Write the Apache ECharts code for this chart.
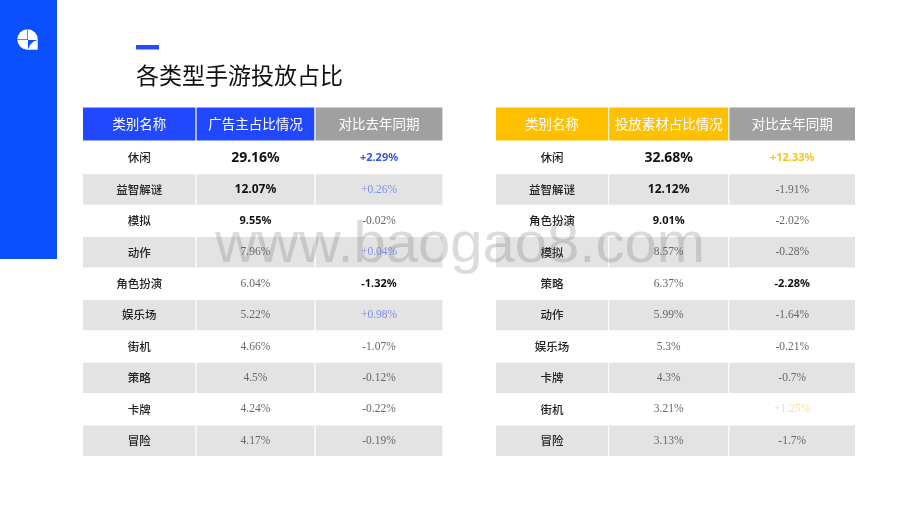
<!doctype html>
<html>
<head>
<meta charset="UTF-8">
<title>各类型手游投放占比</title>
<style>
html, body { margin: 0; padding: 0; background: #fff; }
#main { width: 920px; height: 518px; }
</style>
</head>
<body>
<div id="main"></div>
<script src="https://cdn.jsdelivr.net/npm/echarts@6/dist/echarts.min.js"></script>
<script>
// 数据
var adHeaders = ['类别名称', '广告主占比情况', '对比去年同期'];
var adCategories = ['休闲', '益智解谜', '模拟', '动作', '角色扮演', '娱乐场', '街机', '策略', '卡牌', '冒险'];
var adShares = [29.16, 12.07, 9.55, 7.96, 6.04, 5.22, 4.66, 4.5, 4.24, 4.17];
var adChanges = [2.29, 0.26, -0.02, 0.04, -1.32, 0.98, -1.07, -0.12, -0.22, -0.19];

var mediaHeaders = ['类别名称', '投放素材占比情况', '对比去年同期'];
var mediaCategories = ['休闲', '益智解谜', '角色扮演', '模拟', '策略', '动作', '娱乐场', '卡牌', '街机', '冒险'];
var mediaShares = [32.68, 12.12, 9.01, 8.57, 6.37, 5.99, 5.3, 4.3, 3.21, 3.13];
var mediaChanges = [12.33, -1.91, -2.02, -0.28, -2.28, -1.64, -0.21, -0.7, 1.25, -1.7];

var CJK = '"Noto Sans CJK SC", "Noto Sans", sans-serif';
var BOLD_NUM = '"Noto Sans", "Open Sans", sans-serif';
var SERIF_NUM = '"Liberation Serif", serif';
var shareSizes = [14, 12, 11];

// 前三名加粗，涨跌幅最大的加粗
function shareStyle(i) {
	if (i < 3) return { fontFamily: BOLD_NUM, fontWeight: 700, fontSize: shareSizes[i], fill: '#111' };
	return { fontFamily: SERIF_NUM, fontWeight: 400, fontSize: 11.5, fill: '#666' };
}
function changeStyle(v, list, strong, light) {
	var max = Math.max.apply(null, list), min = Math.min.apply(null, list);
	if (v === max) return { fontFamily: BOLD_NUM, fontWeight: 700, fontSize: 11, fill: strong };
	if (v === min) return { fontFamily: BOLD_NUM, fontWeight: 700, fontSize: 11, fill: '#111' };
	if (v > 0) return { fontFamily: SERIF_NUM, fontWeight: 400, fontSize: 11.5, fill: light };
	return { fontFamily: SERIF_NUM, fontWeight: 400, fontSize: 11.5, fill: '#666' };
}
function signed(v) {
	return (v > 0 ? '+' : '') + v + '%';
}

function cellGroup(left, right, yCenter, h, fill, text, style) {
	var children = [];
	if (fill) {
		children.push({ type: 'rect', shape: { x: left, y: yCenter - h / 2, width: right - left, height: h - 1 }, style: { fill: fill } });
	}
	children.push({
		type: 'text',
		style: {
			x: (left + right) / 2,
			y: yCenter - 0.5,
			text: text,
			align: 'center',
			verticalAlign: 'middle',
			fontFamily: style.fontFamily,
			fontWeight: style.fontWeight,
			fontSize: style.fontSize,
			fill: style.fill
		}
	});
	return { type: 'group', children: children };
}

// 一张表：表头一个 grid，表体一个 grid
function buildTable(gridIdx, opt, left, edges, accent, strong, light, headers, cats, shares, changes) {
	var width = edges[edges.length - 1][1];
	opt.grid.push({ left: left, top: 108, width: width, height: 33 });
	opt.grid.push({ left: left, top: 142.9, width: width, height: 314 });
	[gridIdx, gridIdx + 1].forEach(function(g) {
		opt.xAxis.push({ type: 'value', gridIndex: g, min: 0, max: width, show: false });
	});
	opt.yAxis.push({ type: 'category', gridIndex: gridIdx, data: ['表头'], show: false });
	opt.yAxis.push({ type: 'category', gridIndex: gridIdx + 1, data: cats, inverse: true, show: false });

	var headerFill = [accent, accent, '#a0a0a0'];
	opt.series.push({
		type: 'custom',
		xAxisIndex: gridIdx,
		yAxisIndex: gridIdx,
		data: headers.map(function(t, c) { return [edges[c][0], 0, c]; }),
		renderItem: function(params, api) {
			var c = api.value(2);
			var p0 = api.coord([edges[c][0], 0]);
			var p1 = api.coord([edges[c][1], 0]);
			var h = api.size([0, 1])[1];
			return cellGroup(p0[0], p1[0], p0[1], h + 1, headerFill[c], headers[c], {
				fontFamily: CJK, fontWeight: 400, fontSize: 13.5, fill: '#fff'
			});
		}
	});

	var rows = [];
	cats.forEach(function(name, r) {
		rows.push([edges[0][0], r, 0]);
		rows.push([edges[1][0], r, 1]);
		rows.push([edges[2][0], r, 2]);
	});
	opt.series.push({
		type: 'custom',
		xAxisIndex: gridIdx + 1,
		yAxisIndex: gridIdx + 1,
		data: rows,
		renderItem: function(params, api) {
			var r = api.value(1), c = api.value(2);
			var p0 = api.coord([edges[c][0], r]);
			var p1 = api.coord([edges[c][1], r]);
			var h = api.size([0, 1])[1];
			var text, style;
			if (c === 0) {
				text = cats[r];
				style = { fontFamily: CJK, fontWeight: 500, fontSize: 11.5, fill: '#222' };
			} else if (c === 1) {
				text = shares[r] + '%';
				style = shareStyle(r);
			} else {
				text = signed(changes[r]);
				style = changeStyle(changes[r], changes, strong, light);
			}
			return cellGroup(p0[0], p1[0], p0[1], h, r % 2 ? '#e3e3e3' : null, text, style);
		}
	});
}

var option = {
	backgroundColor: '#fff',
	animation: false,
	grid: [],
	xAxis: [],
	yAxis: [],
	series: [],
	graphic: [
		{ type: 'rect', shape: { x: 0, y: 0, width: 57, height: 259 }, style: { fill: '#0b50ff' } },
		// 左上角图标
		{ type: 'circle', shape: { cx: 27.5, cy: 39.5, r: 10.2 }, style: { fill: '#fff' } },
		{ type: 'rect', shape: { x: 27.5, y: 39.5, width: 10.2, height: 10.2 }, style: { fill: '#fff' } },
		{ type: 'polygon', shape: { points: [[28, 40], [37.7, 40], [33.5, 41.5], [30, 45], [28, 49.7]] }, style: { fill: '#0b50ff' } },
		{ type: 'rect', shape: { x: 17, y: 39, width: 11, height: 1 }, style: { fill: '#0b50ff', opacity: 0.7 } },
		{ type: 'rect', shape: { x: 27, y: 29, width: 1, height: 11 }, style: { fill: '#0b50ff', opacity: 0.7 } },
		// 标题
		{ type: 'rect', shape: { x: 136, y: 45, width: 23, height: 4.5 }, style: { fill: '#1f4dff' } },
		{
			type: 'text', x: 136, y: 75,
			style: { text: '各类型手游投放占比', fontFamily: CJK, fontSize: 23, fontWeight: 400, fill: '#111', verticalAlign: 'middle' }
		},
		// 水印
		{
			type: 'text', x: 460, y: 246, z: 100,
			style: { text: 'www.baogao8.com', fontFamily: '"Liberation Sans", sans-serif', fontSize: 58, fill: 'rgba(110,110,110,0.25)', align: 'center', verticalAlign: 'middle' }
		}
	]
};

buildTable(0, option, 83, [[0, 112.4], [113.6, 231.3], [232.6, 359.4]], '#2148ff', '#3d56e0', '#7d8fe6',
	adHeaders, adCategories, adShares, adChanges);
buildTable(2, option, 496, [[0, 112.2], [113.2, 232.2], [233.4, 359]], '#ffc000', '#f5c518', '#f9e08a',
	mediaHeaders, mediaCategories, mediaShares, mediaChanges);

var myChart = echarts.init(document.getElementById('main'), null, { renderer: 'canvas' });
myChart.setOption(option);
</script>
</body>
</html>
